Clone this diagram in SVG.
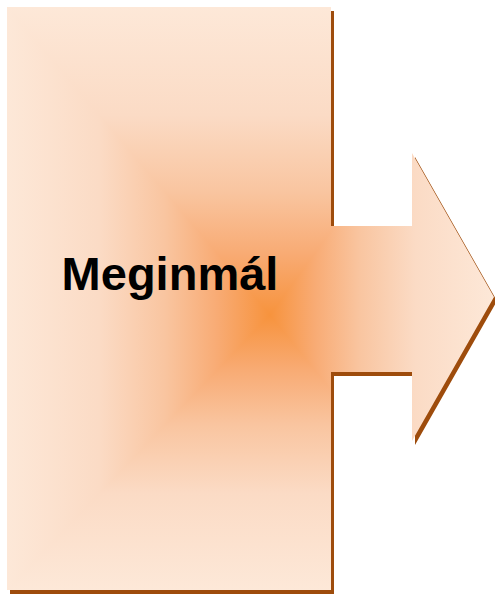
<svg xmlns="http://www.w3.org/2000/svg" width="495" height="595" viewBox="0 0 495 595">
  <defs>
    <path id="shape" d="M7,7 H331 V226 H412 V153 L494,297 L412,441 V372 H331 V590 H7 Z"/>
    <clipPath id="clip"><use href="#shape"/></clipPath>
    <linearGradient id="base" gradientUnits="userSpaceOnUse" x1="0" y1="0" x2="1" y2="0">
      <stop offset="0" stop-color="#FDE8D8"/>
      <stop offset="0.35" stop-color="#FBDBC5"/>
      <stop offset="0.6" stop-color="#F9C5A0"/>
      <stop offset="0.8" stop-color="#F8AB74"/>
      <stop offset="1" stop-color="#F7933D"/>
    </linearGradient>
    <linearGradient id="gT" href="#base" x1="0" y1="7" x2="0" y2="315"/>
    <linearGradient id="gB" href="#base" x1="0" y1="590" x2="0" y2="315"/>
    <linearGradient id="gL" href="#base" x1="7" y1="0" x2="270" y2="0"/>
    <linearGradient id="gR" href="#base" x1="494" y1="0" x2="270" y2="0"/>
    <style>
      .label { font-family: "Liberation Sans", Arial, sans-serif; font-weight: bold; font-size: 47px; fill: #000; }
      .tri { shape-rendering: crispEdges; }
    </style>
  </defs>
  <g id="arrow-node">
    <use href="#shape" transform="translate(3,4)" fill="#9E4C0C"/>
    <g clip-path="url(#clip)">
      <polygon class="tri" points="7,7 494,7 270,315" fill="url(#gT)"/>
      <polygon class="tri" points="7,590 494,590 270,315" fill="url(#gB)"/>
      <polygon class="tri" points="7,7 7,590 270,315" fill="url(#gL)"/>
      <polygon class="tri" points="494,7 494,590 270,315" fill="url(#gR)"/>
    </g>
    <text class="label" x="170" y="290" text-anchor="middle">Meginmál</text>
  </g>
  <g id="connectors"/>
</svg>
